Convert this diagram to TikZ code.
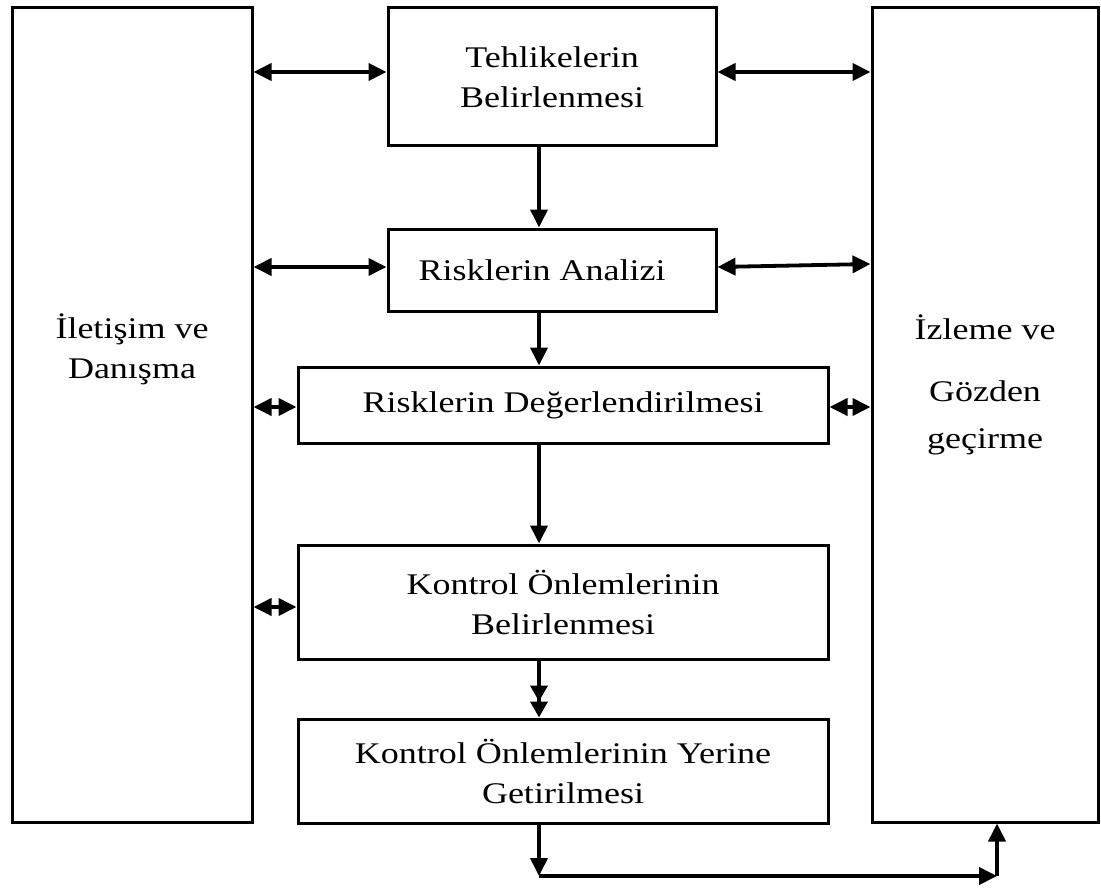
\documentclass[tikz,border=0pt]{standalone}
\usepackage{fontspec}
\setmainfont{Liberation Serif}[FakeStretch=1.2]
\usetikzlibrary{arrows.meta}
\tikzset{
  box/.style={draw, line width=3pt, minimum width=#1, inner sep=0pt, align=center,
    font=\fontsize{30}{40}\selectfont},
  lbl/.style={align=center, inner sep=0pt, font=\fontsize{30}{40}\selectfont},
  tip/.style={Triangle[length=18pt,width=17pt]},
  flow/.style={line width=3.8pt, -{Triangle[length=18pt,width=17pt]}},
  both/.style={line width=3.8pt, {Triangle[length=18pt,width=17pt]}-{Triangle[length=18pt,width=17pt]}},
  twin/.style={line width=3.8pt, -{Triangle[length=16pt,width=17pt]Triangle[length=16pt,width=17pt,sep=0pt]}}
}
\begin{document}
\begin{tikzpicture}[x=1pt,y=-1pt]
  \useasboundingbox (0,0) rectangle (1101,888);
  % side panels
  \node[box=240pt, minimum height=814pt] (lb) at (132,415) {};
  \node[box=226pt, minimum height=814pt] (rb) at (985,415) {};
  \node[lbl] (lt) at (132,349) {İletişim ve\\Danışma};
  \node[lbl] (rt1) at (985,327) {İzleme ve};
  \node[lbl, font=\fontsize{30}{47}\selectfont] (rt2) at (985,418) {Gözden\\geçirme};
  % process steps
  \node[box=328pt, minimum height=138pt] (teh) at (552,77) {Tehlikelerin\\Belirlenmesi};
  \node[box=328pt, minimum height=82pt] (ana) at (552,270) {Risklerin Analizi\hspace*{20pt}};
  \node[box=530pt, minimum height=76pt] (deg) at (563,405) {Risklerin Değerlendirilmesi};
  \node[box=530pt, minimum height=114pt] (kon) at (563,602) {Kontrol Önlemlerinin\\Belirlenmesi};
  \node[box=530pt, minimum height=104pt] (yer) at (563,771) {Kontrol Önlemlerinin Yerine\\Getirilmesi};
  % downward flow
  \draw[flow] (teh.south -| 539,0) -- (ana.north -| 539,0);
  \draw[flow] (ana.south -| 539,0) -- (deg.north -| 539,0);
  \draw[flow] (deg.south -| 539,0) -- (kon.north -| 539,0);
  \draw[twin] (kon.south -| 539,0) -- (yer.north -| 539,0);
  \coordinate (c1) at (539,876);
  \coordinate (c2) at (997,876);
  \draw[flow] (yer.south -| c1) -- (c1);
  \draw[flow] (c1) -- (c2);
  \draw[flow] (c2) -- (rb.south -| c2);
  % links to the side panels
  \draw[both] (lb.east |- 0,72) -- (teh.west |- 0,72);
  \draw[both] (teh.east |- 0,72) -- (rb.west |- 0,72);
  \draw[both] (lb.east |- 0,267) -- (ana.west |- 0,267);
  \draw[both] (ana.east |- 0,267) -- (rb.west |- 0,264);
  \draw[both] (lb.east |- 0,407) -- (deg.west |- 0,407);
  \draw[both] (deg.east |- 0,407) -- (rb.west |- 0,407);
  \draw[both] (lb.east |- 0,607) -- (kon.west |- 0,607);
\end{tikzpicture}
\end{document}
